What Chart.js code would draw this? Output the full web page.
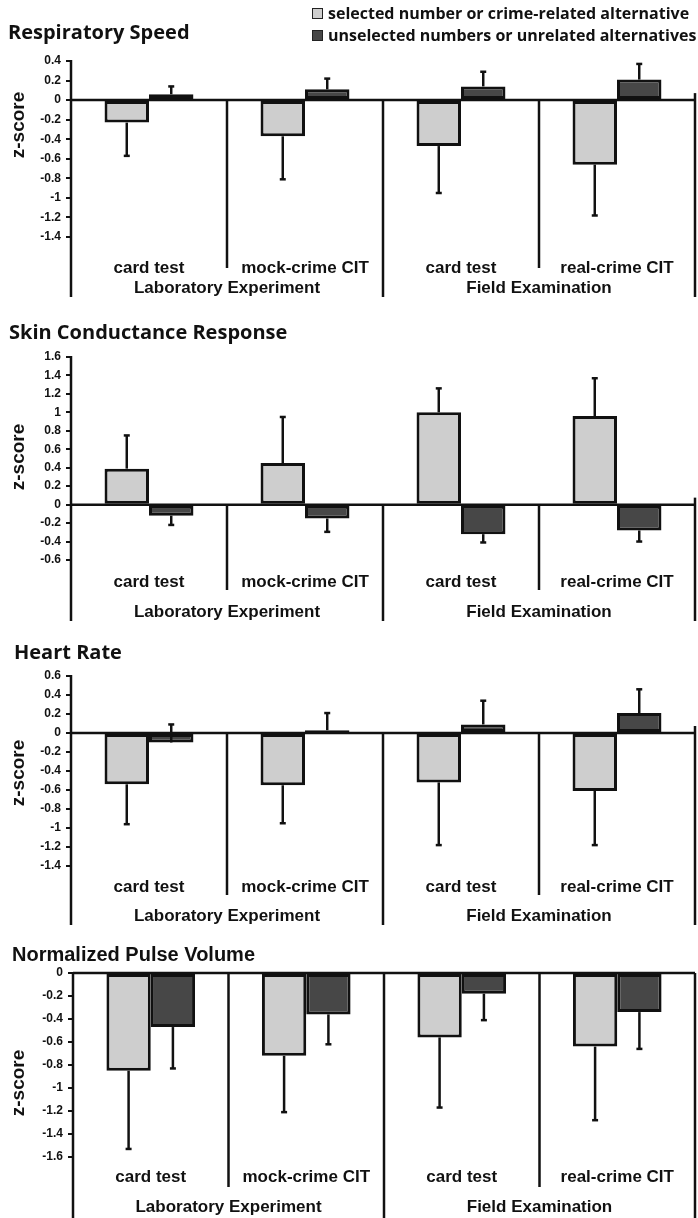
<!DOCTYPE html>
<html>
<head>
<meta charset="utf-8">
<script src="https://cdn.jsdelivr.net/npm/chart.js@4.4.1/dist/chart.umd.min.js"></script>
<style>
  body { margin: 0; background: #fff; }
  #page { position: relative; width: 698px; height: 1218px; overflow: hidden; background: #fff; }
  .panel { position: absolute; left: 0; }
  canvas { display: block; }
  #legend { position: absolute; left: 312px; top: 2px; font: bold 16px 'Open Sans', sans-serif; color: #111; }
  #legend .row { display: flex; align-items: center; height: 22px; white-space: nowrap; }
  #legend .box { width: 9px; height: 9px; border: 1px solid #222; margin-right: 5px; }
</style>
</head>
<body>
<div id="page">
  <div class="panel" style="top:0px"><canvas id="resp" width="698" height="305"></canvas></div>
  <div class="panel" style="top:300px"><canvas id="scr" width="698" height="325"></canvas></div>
  <div class="panel" style="top:625px"><canvas id="hr" width="698" height="305"></canvas></div>
  <div class="panel" style="top:930px"><canvas id="npv" width="698" height="288"></canvas></div>
  <div id="legend"></div>
</div>
<script>
// categories and groups
const categories = ['card test', 'mock-crime CIT', 'card test', 'real-crime CIT'];
const groups = ['Laboratory Experiment', 'Field Examination'];
const seriesNames = ['selected number or crime-related alternative', 'unselected numbers or unrelated alternatives'];
const yAxisTitle = 'z-score';

// Respiratory Speed
const respSelected = [-0.23, -0.37, -0.47, -0.66];
const respSelectedErr = [-0.34, -0.44, -0.48, -0.52];
const respUnselected = [0.06, 0.11, 0.14, 0.21];
const respUnselectedErr = [0.08, 0.11, 0.15, 0.16];
const respRange = [-1.4, 0.4];

// Skin Conductance Response
const scrSelected = [0.39, 0.45, 1.0, 0.96];
const scrSelectedErr = [0.36, 0.5, 0.26, 0.41];
const scrUnselected = [-0.12, -0.15, -0.32, -0.28];
const scrUnselectedErr = [-0.10, -0.145, -0.09, -0.12];
const scrRange = [-0.6, 1.6];

// Heart Rate
const hrSelected = [-0.54, -0.55, -0.52, -0.61];
const hrSelectedErr = [-0.42, -0.40, -0.66, -0.57];
const hrUnselected = [-0.10, 0.03, 0.09, 0.21];
const hrUnselectedErr = [0.19, 0.18, 0.25, 0.25];
const hrRange = [-1.4, 0.6];

// Normalized Pulse Volume
const npvSelected = [-0.85, -0.72, -0.56, -0.64];
const npvSelectedErr = [-0.68, -0.49, -0.61, -0.64];
const npvUnselected = [-0.47, -0.36, -0.18, -0.34];
const npvUnselectedErr = [-0.36, -0.26, -0.23, -0.32];
const npvRange = [-1.6, 0];

const lightGray = '#cecece';
const darkGray = '#474747';
const ink = '#111';

// error bars, zero line, separators, group labels, y title
const panelDeco = {
  id: 'panelDeco',
  afterDatasetsDraw(chart, args, opts) {
    const {ctx, chartArea: a} = chart;
    const x = chart.scales.x, y = chart.scales.y;
    ctx.save();
    ctx.strokeStyle = ink;
    ctx.fillStyle = ink;
    ctx.lineWidth = 2.5;

    chart.data.datasets.forEach((ds, di) => {
      chart.getDatasetMeta(di).data.forEach((bar, i) => {
        const v = ds.data[i];
        const y1 = y.getPixelForValue(v);
        const y2 = y.getPixelForValue(v + ds.errors[i]);
        ctx.beginPath();
        ctx.moveTo(bar.x, y1);
        ctx.lineTo(bar.x, y2);
        ctx.stroke();
        ctx.beginPath();
        ctx.moveTo(bar.x - 3, y2);
        ctx.lineTo(bar.x + 3, y2);
        ctx.stroke();
      });
    });

    const y0 = y.getPixelForValue(0);
    ctx.beginPath();
    ctx.moveTo(a.left, y0);
    ctx.lineTo(a.right, y0);
    ctx.stroke();

    const w = x.getPixelForValue(1) - x.getPixelForValue(0);
    const bounds = [0, 1, 2].map(i => x.getPixelForValue(i) + w / 2);
    const line = (px, top, bottom) => {
      ctx.beginPath();
      ctx.moveTo(px, top);
      ctx.lineTo(px, bottom);
      ctx.stroke();
    };
    line(a.left, a.top - 1, a.bottom + opts.big);
    line(bounds[0], y0, a.bottom + opts.small);
    line(bounds[1], y0, a.bottom + opts.big);
    line(bounds[2], y0, a.bottom + opts.small);
    line(a.right, Math.max(a.top, y0 - 7), a.bottom + opts.big);

    ctx.font = 'bold 17px "Liberation Sans", Arial, sans-serif';
    ctx.textAlign = 'center';
    ctx.textBaseline = 'middle';
    ctx.fillText(groups[0], bounds[0], a.bottom + opts.group);
    ctx.fillText(groups[1], bounds[2], a.bottom + opts.group);

    ctx.translate(19, opts.zTitleY);
    ctx.rotate(-Math.PI / 2);
    ctx.font = 'bold 19px "Liberation Sans", Arial, sans-serif';
    ctx.fillText(yAxisTitle, 0, 0);
    ctx.restore();
  }
};

function makePanel(id, title, titleFont, sel, selErr, unsel, unselErr, range, lay) {
  const lh = titleFont.size * 1.2;
  new Chart(document.getElementById(id), {
    type: 'bar',
    data: {
      labels: categories,
      datasets: [
        { label: seriesNames[0], data: sel, errors: selErr, backgroundColor: lightGray,
          borderColor: ink, borderWidth: 3, borderSkipped: false,
          categoryPercentage: 0.57, barPercentage: 1 },
        { label: seriesNames[1], data: unsel, errors: unselErr, backgroundColor: darkGray,
          borderColor: ink, borderWidth: 3, borderSkipped: false,
          categoryPercentage: 0.57, barPercentage: 1 }
      ]
    },
    options: {
      responsive: false,
      animation: false,
      devicePixelRatio: 1,
      layout: { padding: { left: lay.titleX, right: 3, top: 0, bottom: 0 } },
      plugins: {
        legend: { display: false },
        tooltip: { enabled: false },
        title: {
          display: true, text: title, align: 'start', color: ink,
          font: { family: titleFont.family, size: titleFont.size, weight: 'bold', lineHeight: 1.2 },
          padding: { top: lay.titleY - lh / 2, bottom: lay.top - lay.titleY - lh / 2 }
        },
        panelDeco: lay
      },
      scales: {
        x: {
          offset: true,
          grid: { display: false, drawTicks: false },
          border: { display: false },
          ticks: {
            autoSkip: false, maxRotation: 0, color: ink, padding: lay.cat - 10.2,
            font: { family: '"Liberation Sans", Arial, sans-serif', size: 17, weight: 'bold' }
          },
          afterFit: s => { s.height = lay.h - lay.bottom; }
        },
        y: {
          min: range[0], max: range[1],
          grid: { display: true, drawOnChartArea: false, drawTicks: true, tickLength: 5, color: ink, lineWidth: 2 },
          border: { display: false },
          ticks: {
            stepSize: 0.2, color: ink, padding: 5,
            font: { family: '"Liberation Sans", Arial, sans-serif', size: 12, weight: 'bold' },
            callback: v => String(Math.round(v * 10) / 10)
          },
          afterFit: s => { s.width = lay.left - lay.titleX; }
        }
      }
    },
    plugins: [panelDeco]
  });
}

const calibriLike = { family: '"Open Sans", sans-serif', size: 20 };
const arialLike = { family: '"Liberation Sans", Arial, sans-serif', size: 20 };

makePanel('resp', 'Respiratory Speed', calibriLike, respSelected, respSelectedErr, respUnselected, respUnselectedErr, respRange,
  { h: 305, titleX: 8, titleY: 33, top: 61, bottom: 237, left: 71, cat: 31, group: 51, small: 31, big: 60, zTitleY: 125 });
makePanel('scr', 'Skin Conductance Response', calibriLike, scrSelected, scrSelectedErr, scrUnselected, scrUnselectedErr, scrRange,
  { h: 325, titleX: 9, titleY: 33, top: 57, bottom: 260, left: 71, cat: 22, group: 52, small: 30, big: 61, zTitleY: 157 });
makePanel('hr', 'Heart Rate', calibriLike, hrSelected, hrSelectedErr, hrUnselected, hrUnselectedErr, hrRange,
  { h: 305, titleX: 14, titleY: 28, top: 51, bottom: 241, left: 71, cat: 21, group: 50, small: 29, big: 59, zTitleY: 148 });
makePanel('npv', 'Normalized Pulse Volume', arialLike, npvSelected, npvSelectedErr, npvUnselected, npvUnselectedErr, npvRange,
  { h: 288, titleX: 12, titleY: 25, top: 43, bottom: 227, left: 73, cat: 20, group: 50, small: 30, big: 61, zTitleY: 153 });

// legend
const legend = document.getElementById('legend');
[lightGray, darkGray].forEach((c, i) => {
  const row = document.createElement('div');
  row.className = 'row';
  const box = document.createElement('span');
  box.className = 'box';
  box.style.background = c;
  const label = document.createElement('span');
  label.textContent = seriesNames[i];
  row.appendChild(box);
  row.appendChild(label);
  legend.appendChild(row);
});
</script>
</body>
</html>
